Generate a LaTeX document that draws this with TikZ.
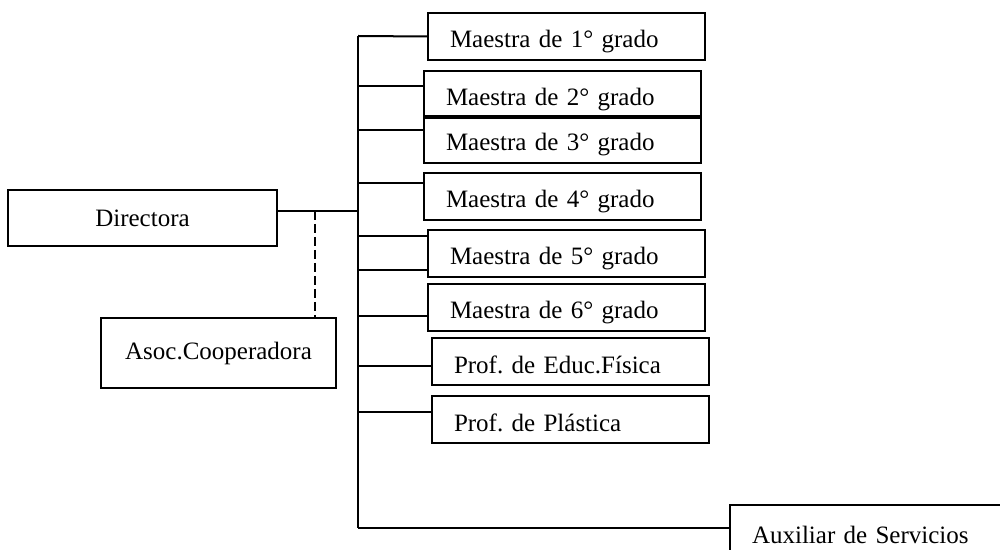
\documentclass[tikz,border=0pt]{standalone}
\usepackage{fontspec}
\setmainfont{Liberation Serif}
\usepackage{tikz}
\frenchspacing

\tikzset{
  caja/.style={draw, rectangle, line width=1pt},
  cargo/.style={caja, anchor=north west, minimum height=23.5pt,
    text width=116.5pt, inner xsep=11pt, align=left,
    text height=11.5pt, text depth=0pt},
}

\begin{document}
\begin{tikzpicture}[x=0.5pt, y=-0.5pt, line width=1pt, font=\fontsize{12.5}{14}\selectfont]
        \useasboundingbox (0,0) rectangle (1000,550);

        \node[caja, minimum width=134.5pt, minimum height=28pt] (dir) at (142.5,218) {Directora};
        \node[caja, minimum width=117.5pt, minimum height=35pt] (aso) at (218.5,353) {Asoc.Cooperadora};

        \node[cargo] (m1) at (427,12) {Maestra de 1° grado};
        \node[cargo] (m2) at (423,70) {Maestra de 2° grado};
        \node[cargo] (m3) at (423,115) {Maestra de 3° grado};
        \node[cargo] (m4) at (423,172) {Maestra de 4° grado};
        \node[cargo] (m5) at (427,229) {Maestra de 5° grado};
        \node[cargo] (m6) at (427,283) {Maestra de 6° grado};
        \node[cargo] (fis) at (431,337) {Prof. de Educ.Física};
        \node[cargo] (pla) at (431,395) {Prof. de Plástica};
        \node[cargo, minimum height=26.5pt] (aux) at (729,504) {Auxiliar de Servicios};

        \coordinate (tope) at (358,36);
        \coordinate (base) at (358,528);
        \coordinate (jd) at (315,211);

        \coordinate (r2) at (358,86);
        \coordinate (r3) at (358,130);
        \coordinate (r4) at (358,183);
        \coordinate (r5a) at (358,236);
        \coordinate (r5b) at (358,270);
        \coordinate (r6) at (358,316);
        \coordinate (r7) at (358,366);
        \coordinate (r8) at (358,412);

        \draw (tope) -- (base);

        \draw (dir.east |- jd) -- (jd) -- (jd -| tope);
        \draw[dash pattern=on 4.5pt off 2pt] (jd) -- (jd |- aso.north);

        \draw (tope) -- (m1.west);
        \draw (r2) -- (m2.west |- r2);
        \draw (r3) -- (m3.west |- r3);
        \draw (r4) -- (m4.west |- r4);
        \draw (r5a) -- (m5.west |- r5a);
        \draw (r5b) -- (m5.west |- r5b);
        \draw (r6) -- (m6.west |- r6);
        \draw (r7) -- (fis.west |- r7);
        \draw (r8) -- (pla.west |- r8);
        \draw (base) -- (aux.west |- base);
    \end{tikzpicture}
\end{document}
